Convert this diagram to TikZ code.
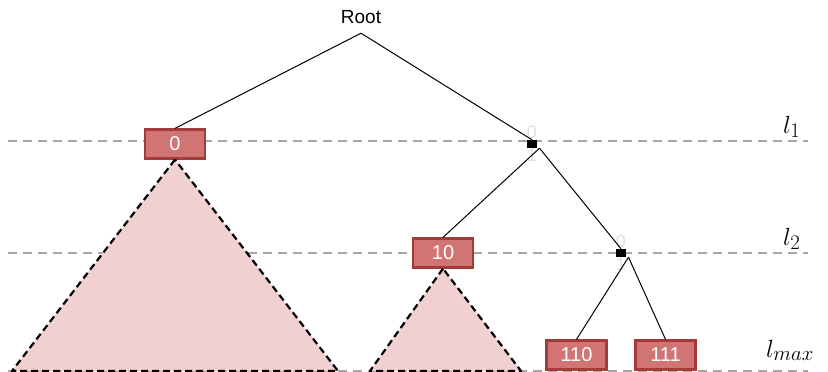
\documentclass[tikz,border=0pt]{standalone}
\usepackage{fontspec}
\setsansfont{Liberation Sans}
\usetikzlibrary{trees}
\definecolor{boxfill}{HTML}{D07474}
\definecolor{boxline}{HTML}{A33B3B}
\definecolor{trifill}{HTML}{F0D0D0}
\definecolor{levelgray}{HTML}{A6A6A6}

\begin{document}
\begin{tikzpicture}[
        x=1pt, y=1pt,
        grow=down,
        level 1/.style={level distance=111pt, sibling distance=357pt,
            edge from parent path={([xshift=7.5pt]\tikzparentnode.south) -- (\tikzchildnode.north)}},
        level 2/.style={level distance=109pt, sibling distance=178pt},
        level 3/.style={level distance=102pt, sibling distance=89pt},
        keybox/.style={rectangle, draw=boxline, line width=2.2pt, fill=boxfill, text=white,
            minimum width=60pt, minimum height=29pt, inner sep=0pt,
            font=\sffamily\fontsize{20}{20}\selectfont},
        bitlabel/.style={text=black!12, font=\sffamily\fontsize{18}{18}\selectfont, inner sep=1pt},
        split/.style={rectangle, fill=black, minimum width=10pt, minimum height=8pt, inner sep=0pt,
            label={[bitlabel]above:0}, label={[bitlabel]below:1}},
        rootnode/.style={inner sep=0pt, minimum size=0pt,
            label={[xshift=7.5pt, inner sep=9pt, font=\sffamily\fontsize{19}{19}\selectfont]above:Root}},
        edge from parent/.style={draw, line width=1pt},
        edge from parent path={(\tikzparentnode.south) -- (\tikzchildnode.north)},
        levelline/.style={levelgray, line width=2pt, dash pattern=on 9pt off 6pt},
        subtree/.style={fill=trifill, draw=black, line width=2.2pt, line join=round, dash pattern=on 7pt off 4pt},
        levelname/.style={anchor=base west, inner sep=0pt, font=\fontsize{28}{28}\selectfont}
    ]
 \useasboundingbox (0,0) rectangle (828,-372);
 % levels
 \draw[levelline] (8,-141) -- (808,-141);
 \draw[levelline] (8,-253) -- (808,-253);
 \draw[levelline] (8,-371) -- (808,-371);
 \node[levelname] (l1) at (783,-133) {$l_1$};
 \node[levelname] (l2) at (783,-245) {$l_2$};
 \node[levelname] (lmax) at (766,-357) {$l_{max}$};
 % the tree
 \node[rootnode] (root) at (353.5,-33) {}
     child {  node[keybox] (k0) {0} }
     child {  node[split] (s1) {}
     child {  node[keybox] (k10) {10} }
     child {  node[split] (s11) {}
     child {  node[keybox] (k110) {110} }
     child {  node[keybox] (k111) {111} } } };
 % subtrees below the keys
 \draw[subtree] (k0.south) -- (12,-371) -- (338,-371) -- cycle;
 \draw[subtree] (k10.south) -- (370,-371) -- (521,-371) -- cycle;
\end{tikzpicture}
\end{document}
